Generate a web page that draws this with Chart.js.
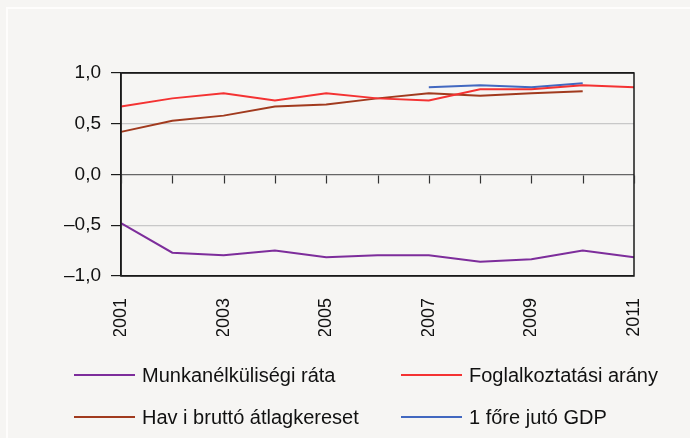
<!DOCTYPE html>
<html lang="hu">
<head>
  <meta charset="UTF-8" />
  <title>Munkaerőpiaci mutatók</title>
  <script src="https://cdn.jsdelivr.net/npm/chart.js"></script>
  <style>
    html, body { margin: 0; padding: 0; background: #f6f5f3; }
    #wrap { position: relative; width: 690px; height: 438px; overflow: hidden; font-family: "Liberation Sans", Arial, sans-serif; }
    #frame { position: absolute; left: 6px; top: 7px; width: 720px; height: 460px; border-left: 2px solid #fefdfc; border-top: 2px solid #fefdfc; }
    #chart { position: absolute; left: 0; top: 0; }
    .item { position: absolute; font-size: 20px; color: #111; line-height: 20px; white-space: nowrap; }
    .item span.swatch { position: absolute; left: 0; top: 9px; width: 61px; height: 2px; }
    .item span.lbl { position: absolute; left: 68px; top: 0; }
  </style>
</head>
<body>
  <div id="wrap">
    <div id="frame"></div>
    <canvas id="chart" width="690" height="438"></canvas>
    <div id="legend"></div>
  </div>

  <script>
    const years = ['2001', '2002', '2003', '2004', '2005', '2006', '2007', '2008', '2009', '2010', '2011'];

    const unemployment = [-0.48, -0.77, -0.795, -0.75, -0.815, -0.795, -0.795, -0.86, -0.835, -0.75, -0.815];
    const employment = [0.67, 0.75, 0.80, 0.73, 0.80, 0.75, 0.73, 0.84, 0.84, 0.88, 0.86];
    const wages = [0.42, 0.53, 0.58, 0.67, 0.69, 0.75, 0.80, 0.775, 0.80, 0.82, null];
    const gdp = [null, null, null, null, null, null, 0.86, 0.88, 0.86, 0.90, null];

    const yTicks = [-1, -0.5, 0, 0.5, 1];

    const fontFamily = '"Liberation Sans", Arial, sans-serif';

    function fmt(v) {
      return v.toFixed(1).replace('.', ',').replace('-', '\u2013');
    }

    // box around the plot + tick marks hanging from the zero line
    const framePlugin = {
      id: 'frame',
      afterDatasetsDraw(chart) {
        const { ctx, chartArea: a, scales } = chart;
        ctx.save();
        ctx.strokeStyle = '#1a1a1a';
        ctx.lineWidth = 1.5;
        ctx.strokeRect(a.left, a.top, a.right - a.left, a.bottom - a.top);
        const y0 = Math.round(scales.y.getPixelForValue(0)) + 0.5;
        ctx.lineWidth = 1.2;
        ctx.strokeStyle = '#333';
        ctx.beginPath();
        years.forEach((yr, i) => {
          const x = Math.round(scales.x.getPixelForValue(i)) + 0.5;
          ctx.moveTo(x, y0);
          ctx.lineTo(x, y0 + 8);
        });
        ctx.stroke();
        ctx.restore();
      }
    };

    const chart = new Chart(document.getElementById('chart'), {
      type: 'line',
      data: {
        labels: years,
        datasets: [
          { label: 'Munkanélküliségi ráta', data: unemployment, borderColor: '#7d2d9b' },
          { label: 'Foglalkoztatási arány', data: employment, borderColor: '#f43232' },
          { label: 'Hav i bruttó átlagkereset', data: wages, borderColor: '#a13a1e' },
          { label: '1 főre jutó GDP', data: gdp, borderColor: '#4268c0' }
        ].map(d => Object.assign(d, { borderWidth: 2, pointRadius: 0, tension: 0, fill: false, spanGaps: false }))
      },
      options: {
        responsive: false,
        animation: false,
        layout: { padding: { left: 0, top: 73, right: 56, bottom: 102 } },
        plugins: { legend: { display: false }, tooltip: { enabled: false } },
        scales: {
          x: {
            offset: false,
            grid: { display: false, drawTicks: false },
            border: { display: false },
            afterFit: s => { s.height = 60; },
            ticks: {
              autoSkip: false,
              maxRotation: 90,
              minRotation: 90,
              padding: 22,
              color: '#111',
              font: { family: fontFamily, size: 18 },
              callback: (v, i) => (i % 2 === 0 ? years[i] : '')
            }
          },
          y: {
            min: -1,
            max: 1,
            afterFit: s => { s.width = 121; },
            afterBuildTicks: s => { s.ticks = yTicks.map(v => ({ value: v })); },
            border: { color: '#1a1a1a', width: 1.5 },
            grid: {
              tickLength: 10,
              tickColor: '#1a1a1a',
              lineWidth: 1.2,
              color: c => {
                const v = c.tick ? c.tick.value : null;
                if (v === 0) return '#666';
                if (v === 0.5 || v === -0.5) return '#c8c8c8';
                return '#1a1a1a';
              }
            },
            ticks: {
              padding: 10,
              color: '#111',
              font: { family: fontFamily, size: 19 },
              callback: v => fmt(v)
            }
          }
        }
      },
      plugins: [framePlugin]
    });

    // two-column legend under the chart, built from the datasets
    const legendPos = [
      { left: 74, top: 365 }, { left: 401, top: 365 },
      { left: 74, top: 407 }, { left: 401, top: 407 }
    ];
    const legend = document.getElementById('legend');
    chart.data.datasets.forEach((ds, i) => {
      const el = document.createElement('div');
      el.className = 'item';
      el.style.left = legendPos[i].left + 'px';
      el.style.top = legendPos[i].top + 'px';
      el.innerHTML = `<span class="swatch" style="background:${ds.borderColor}"></span><span class="lbl">${ds.label}</span>`;
      legend.appendChild(el);
    });
  </script>
</body>
</html>
